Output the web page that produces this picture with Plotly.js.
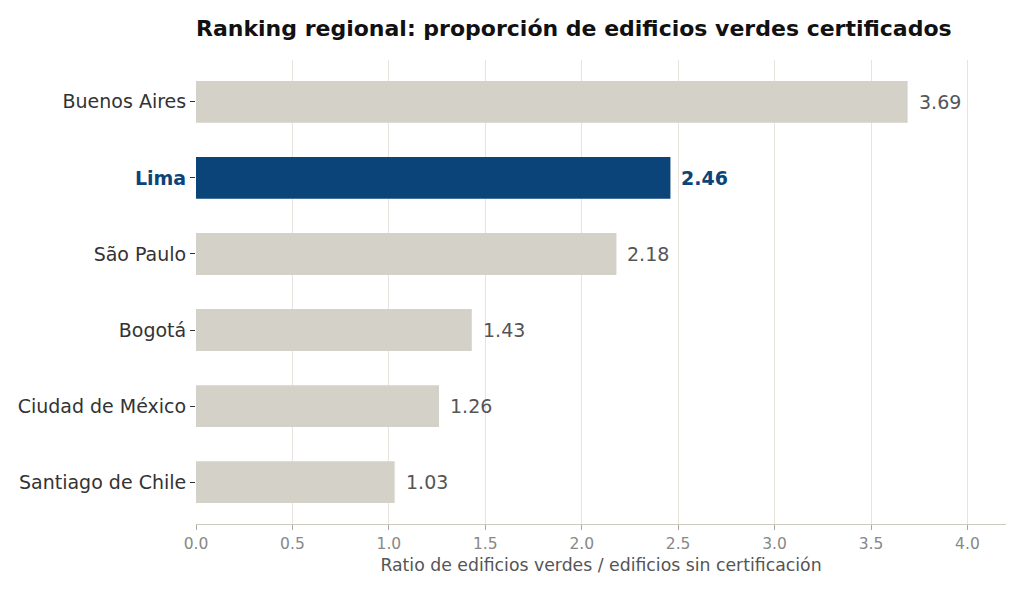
<!DOCTYPE html>
<html>
<head>
<meta charset="utf-8">
<script src="https://cdn.plot.ly/plotly-3.0.1.min.js"></script>
<style>
  html, body { margin: 0; padding: 0; background: #fff; }
  #chart { width: 1024px; height: 592px; }
</style>
</head>
<body>
<div id="chart"></div>
<script>
// Datos (de arriba hacia abajo)
const ciudades = ['Buenos Aires', 'Lima', 'São Paulo', 'Bogotá', 'Ciudad de México', 'Santiago de Chile'];
const ratios = [3.69, 2.46, 2.18, 1.43, 1.26, 1.03];
const destacada = 'Lima';
const xTicks = [0, 0.5, 1, 1.5, 2, 2.5, 3, 3.5, 4];
const xTickLabels = ['0.0', '0.5', '1.0', '1.5', '2.0', '2.5', '3.0', '3.5', '4.0'];

const AZUL = '#0b4479';
const GRIS = '#d4d1c9';

const colores = ciudades.map(c => c === destacada ? AZUL : GRIS);

const etiquetasY = ciudades.map(c =>
  c === destacada ? '<b><span style="color:' + AZUL + '">' + c + '</span></b>' : c
);

// Etiquetas de valor al final de cada barra
const anotaciones = ciudades.map((c, i) => ({
  x: ratios[i],
  y: c,
  xref: 'x',
  yref: 'y',
  text: c === destacada ? '<b>' + ratios[i].toFixed(2) + '</b>' : ratios[i].toFixed(2),
  showarrow: false,
  xanchor: 'left',
  xshift: 9,
  font: { size: 19, color: c === destacada ? AZUL : '#555555', family: 'DejaVu Sans' }
}));

Plotly.newPlot('chart', [{
  type: 'bar',
  orientation: 'h',
  y: ciudades,
  x: ratios,
  marker: { color: colores },
  hoverinfo: 'skip'
}], {
  width: 1024,
  height: 592,
  margin: { l: 196, r: 18, t: 60, b: 68 },
  paper_bgcolor: '#ffffff',
  plot_bgcolor: '#ffffff',
  font: { family: 'DejaVu Sans', color: '#333333' },
  bargap: 0.45,
  showlegend: false,
  title: {
    text: '<b>Ranking regional: proporción de edificios verdes certificados</b>',
    x: 0, xref: 'paper', xanchor: 'left',
    y: 0.953, yanchor: 'middle',
    font: { size: 22, color: '#111111', family: 'DejaVu Sans' }
  },
  xaxis: {
    range: [0, 4.2],
    tickvals: xTicks,
    ticktext: xTickLabels,
    showgrid: true,
    gridcolor: '#e6e4dd',
    gridwidth: 1,
    zeroline: false,
    showline: true,
    linecolor: '#ccc9bf',
    linewidth: 1.2,
    ticks: 'outside',
    ticklen: 5,
    tickcolor: '#aaa8a0',
    tickfont: { size: 15.5, color: '#888888' },
    title: {
      text: 'Ratio de edificios verdes / edificios sin certificación',
      font: { size: 17.3, color: '#555555' },
      standoff: 7
    }
  },
  yaxis: {
    type: 'category',
    categoryorder: 'array',
    categoryarray: ciudades,
    range: [5.55, -0.55],
    tickvals: ciudades,
    ticktext: etiquetasY,
    showgrid: false,
    zeroline: false,
    showline: false,
    ticks: 'outside',
    ticklen: 5,
    tickcolor: '#333333',
    tickfont: { size: 19, color: '#333333' }
  },
  annotations: anotaciones
}, { staticPlot: true });
</script>
</body>
</html>
